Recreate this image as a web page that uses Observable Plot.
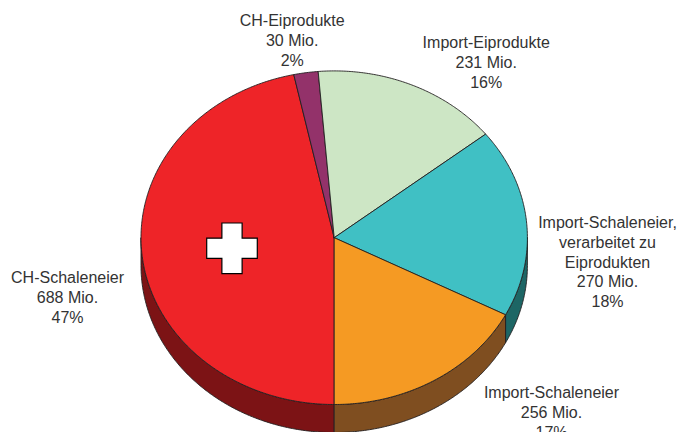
<!DOCTYPE html>
<html>
<head>
<meta charset="utf-8">
<script src="https://cdn.jsdelivr.net/npm/d3@7"></script>
<script src="https://cdn.jsdelivr.net/npm/@observablehq/plot@0.6"></script>
<style>
html,body{margin:0;padding:0;background:#fff;overflow:hidden}
</style>
</head>
<body>
<div id="chart"></div>
<script>
// Data
const categories = ["CH-Schaleneier","CH-Eiprodukte","Import-Eiprodukte","Import-Schaleneier, verarbeitet","Import-Schaleneier"];
const labelNames = ["CH-Schaleneier","CH-Eiprodukte","Import-Eiprodukte","Import-Schaleneier,\nverarbeitet zu\nEiprodukten","Import-Schaleneier"];
const values = [688,30,231,270,256];
const percents = [47,2,16,18,17];
const topColors = ["#ee2428","#93326a","#cde6c5","#40c0c4","#f59a23"];
const sideColors = ["#7c1315","#5a1f40","#8a9a84","#1d6665","#7f4e20"];

// Layout
const W = 679, H = 432;
const cx = 333.7, cy = 237.2, rx = 193.2, ry = 166.8, depth = 28;
const startAngle = 180;
const labelX = [67,291.7,485.7,607,551];
const labelY = [269,12,34,214,384];
const crossAt = [{x:231.5,y:247.8}];

const total = d3.sum(values);
const rim = (deg, drop = 0) => {
  const t = deg * Math.PI / 180;
  return {x: cx + rx * Math.sin(t), y: cy - ry * Math.cos(t) + drop};
};
const arcAngles = (a, b) => {
  const n = Math.max(2, Math.ceil((b - a) * 2));
  return d3.range(n + 1).map(i => a + (b - a) * i / n);
};

const tops = [], sides = [];
let acc = startAngle;
categories.forEach((name, i) => {
  const a = acc, b = acc + values[i] / total * 360;
  acc = b;
  const ring = [{x: cx, y: cy}, ...arcAngles(a, b).map(d => rim(d)), {x: cx, y: cy}];
  ring.forEach(p => tops.push({...p, name}));
  const va = Math.max(a, 90), vb = Math.min(b, 270);
  const va2 = Math.max(a - 360, 90), vb2 = Math.min(b - 360, 270);
  [[va, vb], [va2, vb2]].forEach(([s, e]) => {
    if (e > s) {
      const ang = arcAngles(s, e);
      const loop = [...ang.map(d => rim(d)), ...ang.slice().reverse().map(d => rim(d, depth)), rim(s)];
      loop.forEach(p => sides.push({...p, name: name + " side"}));
    }
  });
});

const labels = categories.map((c, i) => ({
  text: `${labelNames[i]}\n${values[i]} Mio.\n${percents[i]}%`,
  x: labelX[i], y: labelY[i]
}));

const crossSymbol = {
  draw(ctx, size) {
    const r = Math.sqrt(size / Math.PI), k = r * 0.4;
    ctx.moveTo(-k, -r);
    ctx.lineTo(k, -r);
    ctx.lineTo(k, -k);
    ctx.lineTo(r, -k);
    ctx.lineTo(r, k);
    ctx.lineTo(k, k);
    ctx.lineTo(k, r);
    ctx.lineTo(-k, r);
    ctx.lineTo(-k, k);
    ctx.lineTo(-r, k);
    ctx.lineTo(-r, -k);
    ctx.lineTo(-k, -k);
    ctx.closePath();
  }
};

const chart = Plot.plot({
  width: W,
  height: H,
  margin: 0,
  style: {background: "#fff"},
  x: {domain: [0, W], range: [0, W], axis: null},
  y: {domain: [0, H], range: [0, H], axis: null},
  color: {
    domain: [...categories, ...categories.map(c => c + " side")],
    range: [...topColors, ...sideColors]
  },
  marks: [
    Plot.line(sides, {x: "x", y: "y", z: "name", fill: "name", stroke: "#231f20", strokeWidth: 0.9}),
    Plot.line(tops, {x: "x", y: "y", z: "name", fill: "name", stroke: "#231f20", strokeWidth: 0.9}),
    Plot.dot(crossAt, {x: "x", y: "y", r: 25.3, symbol: crossSymbol, fill: "#fff", stroke: "#000", strokeWidth: 1.2}),
    Plot.text(labels, {
      x: "x", y: "y", text: "text",
      lineAnchor: "top", textAnchor: "middle", lineHeight: 1.225,
      fontFamily: "Liberation Sans", fontSize: 16, fill: "#333"
    })
  ]
});
document.getElementById("chart").appendChild(chart);
</script>
</body>
</html>
